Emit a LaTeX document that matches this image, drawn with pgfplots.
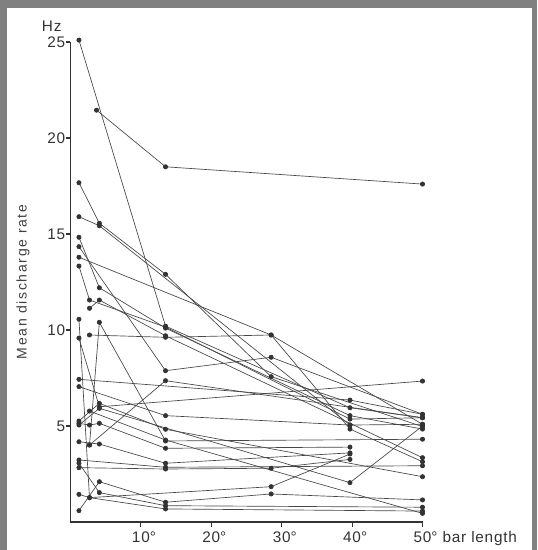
\documentclass[border=0pt]{standalone}
\usepackage{fontspec}
\setmainfont{Liberation Sans}[LetterSpace=5]
\usepackage{pgfplots}
\pgfplotsset{compat=1.18}
\begin{document}
\begin{tikzpicture}
\useasboundingbox (0,0) rectangle (402.75pt,412.5pt);
\fill[black!50] (0,0) rectangle (402.75pt,412.5pt);
\fill[white] (5.25pt,0pt) rectangle (399pt,406.5pt);
\begin{axis}[
  scale only axis, width=264pt, height=360pt,
  at={(52.875pt,21pt)}, anchor=origin,
  xmin=0, xmax=50, ymin=0, ymax=25,
  axis lines*=left,
  axis line style={black!80, line width=0.8pt},
  tick align=outside, major tick length=3.5pt,
  tick style={black!80, line width=0.8pt},
  xtick={10,20,30,40,50},
  xticklabels={10\rlap{°},20\rlap{°},30\rlap{°},40\rlap{°},50\rlap{° bar length}},
  ytick={5,10,15,20,25},
  yticklabels={5,10,15,20,25},
  tick label style={font=\fontsize{11.5}{13}\selectfont, text=black!80},
  yticklabel style={xshift=3pt},
  ylabel={Mean discharge rate},
  ylabel style={at={(axis description cs:-0.135,0.5)}, anchor=center, font=\fontsize{10.5}{12}\selectfont\addfontfeatures{LetterSpace=12}, text=black!75},
  clip=false,
  nrn/.style={black!72, line width=0.5pt, mark=*, mark size=1.6pt, mark options={fill=black!80, draw=black!80, solid}},
]
\addplot[nrn] coordinates {(1.2,25.1) (13.5,10.2) (39.7,5.95) (50,5.43)};
\addplot[nrn] coordinates {(3.7,21.45) (13.5,18.5) (50,17.6)};
\addplot[nrn] coordinates {(1.2,17.67) (4.1,15.56) (13.5,12.9) (28.5,7.57) (50,4.97)};
\addplot[nrn] coordinates {(1.2,15.9) (4.1,15.43) (39.7,5.05) (50,5.09)};
\addplot[nrn] coordinates {(1.2,14.83) (4.1,12.2) (13.5,10.1) (39.7,5.54) (50,4.84)};
\addplot[nrn] coordinates {(1.2,14.34) (13.5,7.88) (28.5,8.58) (50,5.61)};
\addplot[nrn] coordinates {(1.2,13.79) (28.5,9.74) (39.7,4.84) (50,3.14)};
\addplot[nrn] coordinates {(1.2,13.33) (2.7,11.56) (13.5,10.15) (39.7,5.36) (50,5.43)};
\addplot[nrn] coordinates {(2.7,11.13) (4.1,11.56) (13.5,9.7) (50,3.35)};
\addplot[nrn] coordinates {(2.7,9.74) (13.5,9.62) (28.5,9.74) (50,5.09)};
\addplot[nrn] coordinates {(1.2,10.56) (2.7,1.27) (28.5,1.84) (39.7,3.54)};
\addplot[nrn] coordinates {(1.2,9.58) (4.1,6.0) (50,7.34)};
\addplot[nrn] coordinates {(2.7,4.01) (4.1,10.4) (13.5,4.22) (50,4.31)};
\addplot[nrn] coordinates {(2.7,4.01) (13.5,7.36) (50,5.43)};
\addplot[nrn] coordinates {(1.2,7.43) (39.7,6.35) (50,5.61)};
\addplot[nrn] coordinates {(1.2,7.05) (13.5,5.54) (39.7,5.05)};
\addplot[nrn] coordinates {(1.2,5.14) (2.7,5.05) (4.1,5.14) (13.5,3.84) (39.7,3.9)};
\addplot[nrn] coordinates {(1.2,4.18) (4.1,4.06) (13.5,3.06) (39.7,3.6)};
\addplot[nrn] coordinates {(1.2,3.23) (13.5,2.85) (50,2.93)};
\addplot[nrn] coordinates {(1.2,2.83) (13.5,2.76) (28.5,2.8) (39.7,3.26)};
\addplot[nrn] coordinates {(1.2,3.06) (4.1,1.53) (13.5,0.85) (50,0.77)};
\addplot[nrn] coordinates {(1.2,1.44) (2.7,1.27) (13.5,0.68) (50,0.57)};
\addplot[nrn] coordinates {(1.2,0.59) (4.1,2.1) (13.5,1.03) (28.5,1.46) (50,1.15)};
\addplot[nrn] coordinates {(1.2,5.26) (4.1,6.18) (13.5,4.83) (50,2.36)};
\addplot[nrn] coordinates {(1.2,5.05) (4.1,5.92) (39.7,2.05) (50,5.0)};
\addplot[nrn] coordinates {(2.7,5.78) (13.5,4.27) (50,0.45)};
\node[anchor=base east, inner sep=0pt, xshift=-6.6pt, yshift=7.5pt, font=\fontsize{11.5}{13}\selectfont, text=black!80] at (axis cs:0,25) {Hz};
\end{axis}
\end{tikzpicture}
\end{document}
